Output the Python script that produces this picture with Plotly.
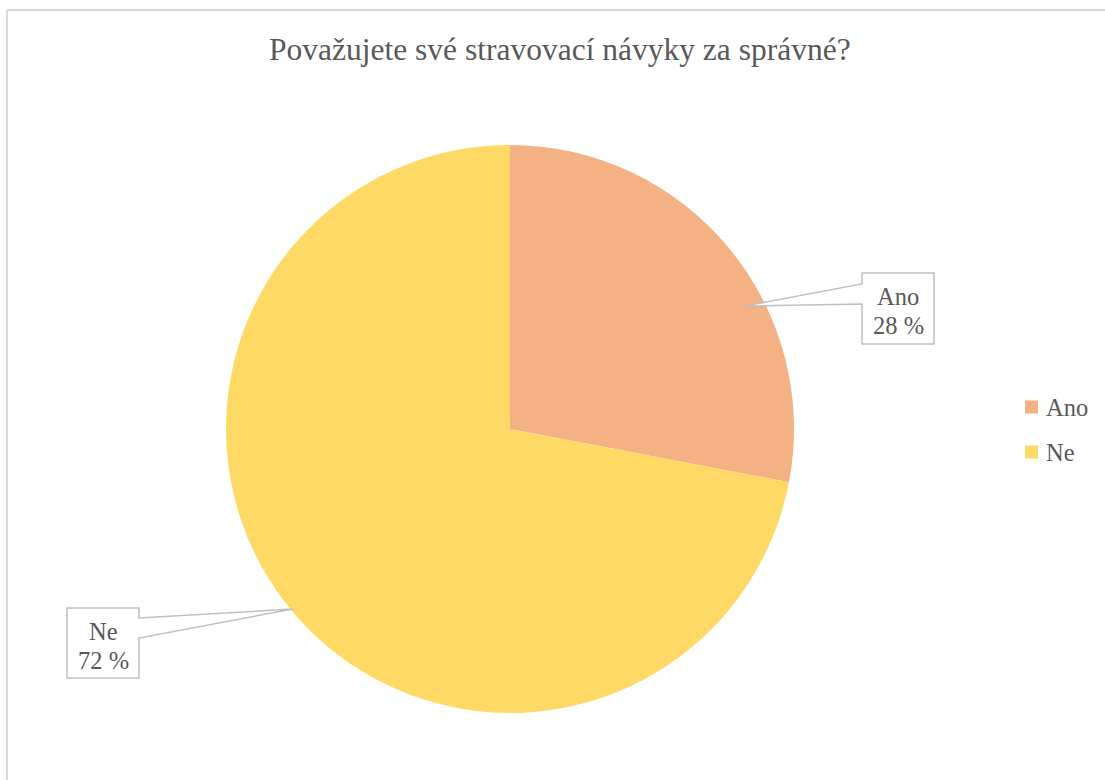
import plotly.graph_objects as go

# Data
categories = ["Ano", "Ne"]
values = [28, 72]
colors = ["#F4B183", "#FFD966"]
title_text = "Považujete své stravovací návyky za správné?"

W, H = 1105, 780
FONT = "Liberation Serif"
TXT = "#595959"
EDGE = "#BFBFBF"

def px(x):
    return x / W

def py(y):
    return 1 - y / H

fig = go.Figure()

fig.add_trace(go.Pie(
    labels=categories,
    values=values,
    marker=dict(colors=colors, line=dict(color="white", width=0)),
    sort=False,
    direction="clockwise",
    rotation=0,
    textinfo="none",
    hoverinfo="label+percent",
    showlegend=False,
    domain=dict(x=[px(226), px(794)], y=[py(713), py(145)]),
))

# invisible pixel-coordinate axes for annotations/shapes
fig.update_layout(
    xaxis=dict(range=[0, W], visible=False, domain=[0, 1], fixedrange=True),
    yaxis=dict(range=[H, 0], visible=False, domain=[0, 1], fixedrange=True),
)

shapes = []
# outer chart frame (top and left visible)
shapes.append(dict(type="line", x0=7, y0=10, x1=W + 5, y1=10, xref="x", yref="y",
                   line=dict(color="#D9D9D9", width=2), layer="above"))
shapes.append(dict(type="line", x0=7, y0=10, x1=7, y1=H + 5, xref="x", yref="y",
                   line=dict(color="#D9D9D9", width=2), layer="above"))

# callouts
ano_path = "M 862 273 L 934 273 L 934 344 L 862 344 L 862 304 L 745 306 L 862 284 Z"
ne_path = "M 67 608 L 139 608 L 139 618 L 293 609 L 139 638 L 139 678 L 67 678 Z"
for p in (ano_path, ne_path):
    shapes.append(dict(type="path", path=p, xref="x", yref="y",
                       fillcolor="white", line=dict(color=EDGE, width=1.5), layer="above"))

# legend squares
legend_y = [407, 452]
for c, yy in zip(colors, legend_y):
    shapes.append(dict(type="rect", x0=1025, x1=1038, y0=yy - 6.5, y1=yy + 6.5,
                       xref="x", yref="y", fillcolor=c, line=dict(width=0), layer="above"))

annotations = []
# title
annotations.append(dict(text=title_text, x=560, y=49, xref="x", yref="y",
                        showarrow=False, font=dict(family=FONT, size=31.5, color=TXT),
                        xanchor="center", yanchor="middle"))
# callout texts
callout_pos = {"Ano": (898, 296, 325), "Ne": (103, 631, 660)}
total = sum(values)
for cat, v in zip(categories, values):
    cx, y1, y2 = callout_pos[cat]
    annotations.append(dict(text=cat, x=cx, y=y1, xref="x", yref="y", showarrow=False,
                            font=dict(family=FONT, size=24.5, color=TXT),
                            xanchor="center", yanchor="middle"))
    annotations.append(dict(text=f"{round(100 * v / total)} %", x=cx, y=y2, xref="x", yref="y",
                            showarrow=False, font=dict(family=FONT, size=24.5, color=TXT),
                            xanchor="center", yanchor="middle"))
# legend labels
for cat, yy in zip(categories, legend_y):
    annotations.append(dict(text=cat, x=1044, y=yy, xref="x", yref="y", showarrow=False,
                            font=dict(family=FONT, size=24.5, color=TXT),
                            xanchor="left", yanchor="middle"))

fig.update_layout(
    width=W, height=H,
    margin=dict(l=0, r=0, t=0, b=0),
    paper_bgcolor="white",
    plot_bgcolor="white",
    font=dict(family=FONT, color=TXT),
    shapes=shapes,
    annotations=annotations,
    showlegend=False,
)

fig.write_html("out.html", config={"displayModeBar": False},
               post_script="document.body.style.margin='0';")
